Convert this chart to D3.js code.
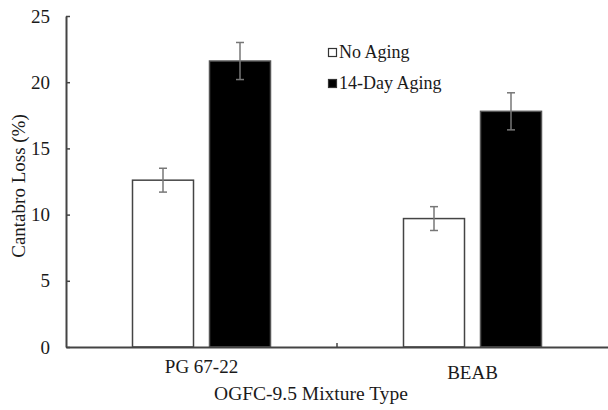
<!DOCTYPE html>
<html><head><meta charset="utf-8">
<script src="https://cdn.jsdelivr.net/npm/d3@7"></script>
<style>body{margin:0;background:#fff}svg{display:block}text{font-family:"Liberation Serif","Times New Roman",serif;fill:#1a1a1a}</style>
</head><body><svg id="c" width="608" height="410"></svg>
<script>
const categories = ["PG 67-22", "BEAB"];
const seriesNames = ["No Aging", "14-Day Aging"];
const noAging = [12.6, 9.7];
const noAgingErr = [0.9, 0.9];
const aged = [21.6, 17.8];
const agedErr = [1.4, 1.4];
const yTicks = [0, 5, 10, 15, 20, 25];

(function () {
const svg = d3.select("#c");
const mLeft = 66, mRight = 608, mTop = 16, mBottom = 347;
const x = d3.scaleBand().domain(categories).range([mLeft, mRight]);
const y = d3.scaleLinear().domain([0, 25]).range([mBottom, mTop]);
const barW = 61, gap = 16;

const series = [
  {name: seriesNames[0], vals: noAging, errs: noAgingErr, fill: "#fff", off: -gap/2 - barW},
  {name: seriesNames[1], vals: aged, errs: agedErr, fill: "#000", off: gap/2}
];

series.forEach(s => {
  const g = svg.append("g");
  categories.forEach((c, i) => {
    const cx = x(c) + x.bandwidth()/2 + s.off;
    g.append("rect").attr("x", cx).attr("y", y(s.vals[i])).attr("width", barW)
      .attr("height", y(0) - y(s.vals[i])).attr("fill", s.fill)
      .attr("stroke", s.fill === "#000" ? "#555" : "#444").attr("stroke-width", 1.5);
    const ex = cx + barW/2;
    const eg = svg.append("g").attr("stroke", "#777").attr("stroke-width", 1.5);
    eg.append("line").attr("x1", ex).attr("x2", ex).attr("y1", y(s.vals[i] + s.errs[i])).attr("y2", y(s.vals[i] - s.errs[i]));
    [s.vals[i] + s.errs[i], s.vals[i] - s.errs[i]].forEach(v =>
      eg.append("line").attr("x1", ex - 4).attr("x2", ex + 4).attr("y1", y(v)).attr("y2", y(v)));
  });
});

// y axis
const ya = svg.append("g").attr("transform", `translate(${mLeft},0)`)
  .call(d3.axisRight(y).tickValues(yTicks).tickSize(4).tickSizeOuter(0).tickFormat(d3.format("d")));
ya.select(".domain").attr("stroke", "#444").attr("stroke-width", 2);
ya.selectAll(".tick line").attr("stroke", "#444").attr("stroke-width", 1.5);
ya.selectAll(".tick text").attr("x", -16).attr("text-anchor", "end").attr("font-size", 19)
  .attr("font-family", "Liberation Serif").attr("fill", "#1a1a1a");

// x axis
const xa = svg.append("g").attr("transform", `translate(0,${mBottom})`)
  .call(d3.axisBottom(x).tickSize(0).tickSizeOuter(0));
xa.select(".domain").attr("stroke", "#444").attr("stroke-width", 2);
xa.selectAll(".tick text").attr("font-size", 19).attr("font-family", "Liberation Serif").attr("fill", "#1a1a1a")
  .attr("y", 0).attr("dy", (d, i) => i === 0 ? 26 : 32);
// inner separator tick
svg.append("line").attr("x1", x(categories[1])).attr("x2", x(categories[1]))
  .attr("y1", mBottom).attr("y2", mBottom - 4).attr("stroke", "#444").attr("stroke-width", 1.5);

// axis titles
svg.append("text").attr("x", 311).attr("y", 400).attr("text-anchor", "middle").attr("font-size", 19.5)
  .text("OGFC-9.5 Mixture Type");
svg.append("text").attr("transform", "translate(25,186) rotate(-90)").attr("text-anchor", "middle").attr("font-size", 19)
  .text("Cantabro Loss (%)");

// legend
series.forEach((s, i) => {
  const ly = 48 + i * 31;
  svg.append("rect").attr("x", 328.5).attr("y", ly + 0.5).attr("width", 8).attr("height", 8)
    .attr("fill", s.fill).attr("stroke", "#333").attr("stroke-width", 1.2);
  svg.append("text").attr("x", 339).attr("y", ly + 10).attr("font-size", 18).text(s.name);
});
})();
</script></body></html>
